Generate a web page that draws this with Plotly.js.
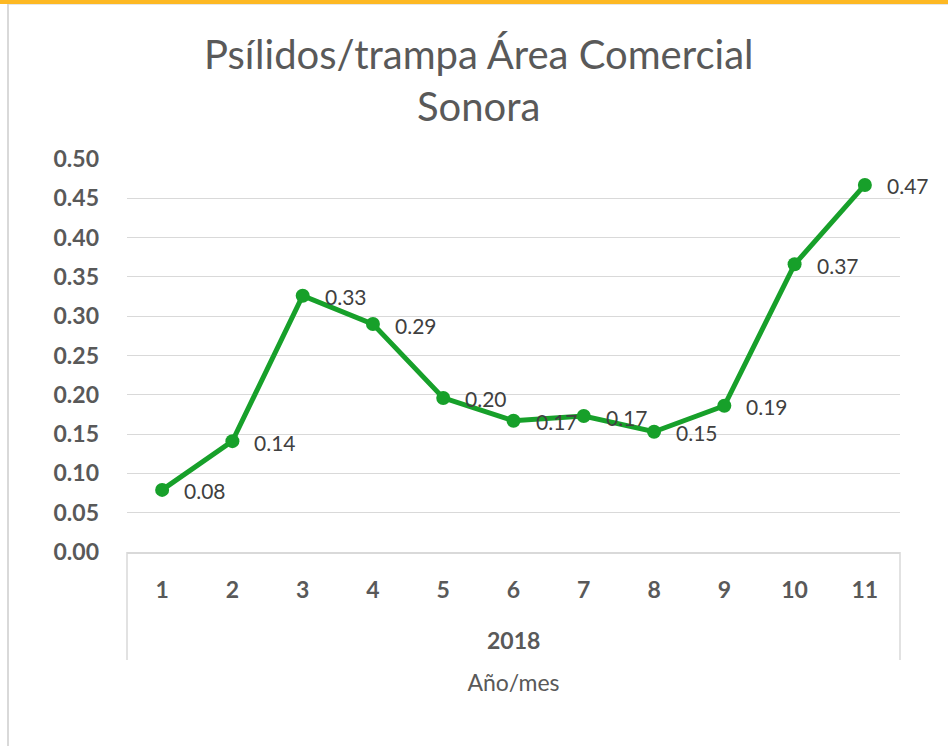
<!DOCTYPE html>
<html>
<head>
<meta charset="utf-8">
<script src="https://cdn.plot.ly/plotly-3.0.1.min.js"></script>
<style>
  html, body { margin: 0; padding: 0; background: #ffffff; }
  #wrap { position: relative; width: 948px; height: 746px; overflow: hidden; }
  #chart { position: absolute; left: 0; top: 0; width: 948px; height: 746px; }
  #topbar { position: absolute; left: 0; top: 0; width: 948px; height: 4px; background: #FDB823; pointer-events: none; }
  #topline { position: absolute; left: 7px; top: 4px; width: 941px; height: 1px; background: #e6e6e6; pointer-events: none; }
  #leftline { position: absolute; left: 7px; top: 4px; width: 2px; height: 742px; background: #d9d9d9; pointer-events: none; }
</style>
</head>
<body>
<div id="wrap">
  <div id="chart"></div>
  <div id="topbar"></div>
  <div id="topline"></div>
  <div id="leftline"></div>
</div>
<script>
// ---- data ----
const months = ["1", "2", "3", "4", "5", "6", "7", "8", "9", "10", "11"];
const psilidos = [0.079, 0.141, 0.326, 0.290, 0.196, 0.167, 0.173, 0.153, 0.186, 0.366, 0.467];
const yearLabel = "2018";
const chartTitle = "Psílidos/trampa Área Comercial<br>Sonora";
const xTitle = "Año/mes";

const FONT = "Lato, 'Open Sans', sans-serif";
const GREEN = "#17a02a";

const trace = {
  type: "scatter",
  mode: "lines+markers",
  x: months,
  y: psilidos,
  line: { color: GREEN, width: 5 },
  marker: { color: GREEN, size: 14 },
  cliponaxis: false,
  hoverinfo: "x+y"
};

// data labels placed through the axes (category index) to the right of each point
const labelAnns = months.map((m, i) => ({
  x: i, y: psilidos[i], xref: "x", yref: "y",
  text: psilidos[i].toFixed(2),
  xanchor: "left", yanchor: "middle",
  xshift: 20, yshift: -1,
  showarrow: false,
  font: { family: FONT, size: 21, color: "#404040" }
}));

const layout = {
  width: 948,
  height: 746,
  margin: { l: 127, r: 48, t: 159, b: 194 },
  paper_bgcolor: "#ffffff",
  plot_bgcolor: "#ffffff",
  showlegend: false,
  title: {
    text: chartTitle,
    font: { family: FONT, size: 40, color: "#595959" },
    x: 0.505, xanchor: "center",
    y: 0.908, yanchor: "middle"
  },
  xaxis: {
    type: "category",
    range: [-0.5, 10.5],
    showgrid: false,
    showline: true,
    linecolor: "#d9d9d9",
    linewidth: 1.5,
    ticks: "",
    ticklabelstandoff: 17,
    tickfont: { family: FONT, size: 23, color: "#595959", weight: "bold" },
    zeroline: false,
    fixedrange: true,
    title: {
      text: xTitle,
      font: { family: FONT, size: 23, color: "#595959" },
      standoff: 73
    }
  },
  yaxis: {
    range: [0, 0.5],
    dtick: 0.05,
    tick0: 0,
    tickformat: ".2f",
    showgrid: true,
    gridcolor: "#d9d9d9",
    gridwidth: 1.3,
    zeroline: false,
    showline: false,
    ticks: "",
    ticklabelstandoff: 27,
    tickfont: { family: FONT, size: 23, color: "#595959", weight: "bold" },
    fixedrange: true
  },
  shapes: [
    { type: "line", xref: "paper", yref: "paper", x0: 0, x1: 0, y0: 0, y1: -0.275,
      line: { color: "#d9d9d9", width: 1.5 } },
    { type: "line", xref: "paper", yref: "paper", x0: 1, x1: 1, y0: 0, y1: -0.275,
      line: { color: "#d9d9d9", width: 1.5 } }
  ],
  annotations: [
    { text: "<b>" + yearLabel + "</b>", xref: "paper", yref: "paper", x: 0.5, y: 0,
      xanchor: "center", yanchor: "middle", yshift: -88, showarrow: false,
      font: { family: FONT, size: 23, color: "#595959" } }
  ].concat(labelAnns)
};

Plotly.newPlot("chart", [trace], layout, { displayModeBar: false });
</script>
</body>
</html>
